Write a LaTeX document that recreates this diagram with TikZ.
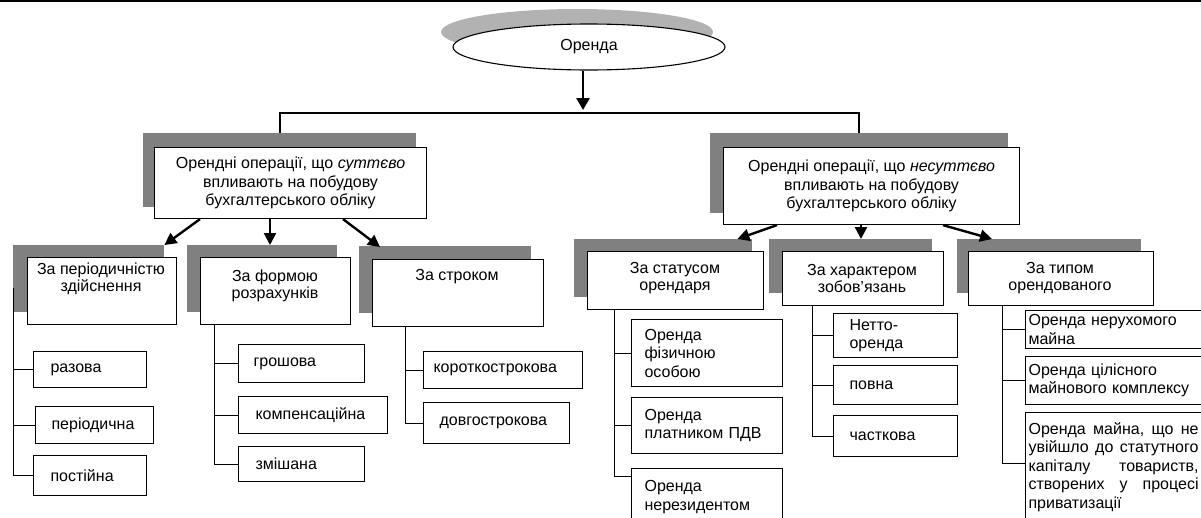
\documentclass[tikz,border=0pt]{standalone}
\usepackage{fontspec}
\setmainfont{Liberation Sans}
\usetikzlibrary{arrows.meta,shapes.geometric,calc}
\begin{document}
\begin{tikzpicture}[x=1pt,y=-1pt,
  box/.style={draw, line width=1.1pt, fill=white, inner sep=0pt, anchor=north west},
  shd/.style={fill=gray, inner sep=0pt, anchor=north west},
  mainf/.style={font=\fontsize{16}{18.5}\selectfont, align=center},
  tx/.style={font=\fontsize{16}{17}\selectfont, align=center, inner sep=0pt},
  sub/.style={box, font=\fontsize{16}{18.5}\selectfont, align=left, inner ysep=0pt},
  arr/.style={line width=2.4pt, -{Triangle[length=12pt,width=12pt]}},
  tree/.style={line width=1pt},
]
\useasboundingbox (0,0) rectangle (1201,517);
\clip (0,0) rectangle (1201,517);
\draw[line width=2.4pt] (0,1.2) -- (1201,1.2);

% root ellipse
\node[ellipse, fill=gray!60, minimum width=272pt, minimum height=46pt, inner sep=0pt] (ors) at (577,32) {};
\node[ellipse, draw, line width=1.1pt, fill=white, minimum width=272pt, minimum height=46pt, inner sep=0pt, font=\fontsize{16}{18}\selectfont] (or) at (589,47) {Оренда};
\coordinate (bar) at (583,113);
\draw[line width=2.6pt, -{Triangle[length=12pt,width=13pt]}] ([xshift=-6pt]or.south) -- ([yshift=3pt]bar);

% main boxes
\node[shd, minimum width=273pt, minimum height=74pt] (lms) at (143,133) {};
\node[shd, minimum width=298pt, minimum height=80pt] (rms) at (710,133) {};
\node[box, mainf, minimum width=272pt, minimum height=71pt] (lm) at (154,147) {Орендні операції, що \textit{суттєво}\\впливають на побудову\\бухгалтерського обліку};
\node[box, mainf, minimum width=296pt, minimum height=77pt] (rm) at (723,147) {Орендні операції, що \textit{несуттєво}\\впливають на побудову\\бухгалтерського обліку};

\draw[line width=1.2pt] ([xshift=137pt]lms.north west) |- (bar) -| ([xshift=149pt]rms.north west);
\draw[line width=2pt] ([xshift=137pt]lms.north west) -- ++(0,-20);
\draw[line width=2pt] ([xshift=149pt]rms.north west) -- ++(0,-20);

% header shadows and boxes
\node[shd, minimum width=151pt, minimum height=67pt] (h1s) at (13,245) {};
\node[shd, minimum width=150pt, minimum height=67pt] (h2s) at (187,245) {};
\node[shd, minimum width=172pt, minimum height=67pt] (h3s) at (359,246) {};
\node[shd, minimum width=178pt, minimum height=58pt] (h4s) at (574,239) {};
\node[shd, minimum width=163pt, minimum height=54pt] (h5s) at (769,239) {};
\node[shd, minimum width=184pt, minimum height=54pt] (h6s) at (957,239) {};

\node[box, minimum width=149pt, minimum height=67pt] (h1) at (27,257) {};
\node[box, minimum width=150pt, minimum height=67pt] (h2) at (200,257) {};
\node[box, minimum width=171pt, minimum height=67pt] (h3) at (372,259) {};
\node[box, minimum width=176pt, minimum height=58pt] (h4) at (587,251) {};
\node[box, minimum width=161pt, minimum height=54pt] (h5) at (782,251) {};
\node[box, minimum width=185pt, minimum height=54pt] (h6) at (968,251) {};

\node[tx] (h1t) at (101,278.5) {За періодичністю\\здійснення};
\node[tx] (h2t) at (275,286) {За формою\\розрахунків};
\node[tx] (h3t) at (457,277) {За строком};
\node[tx] (h4t) at (675,278.5) {За статусом\\орендаря};
\node[tx] (h5t) at (862,278.5) {За характером\\зобов’язань};
\node[tx] (h6t) at (1060,278.5) {За типом\\орендованого};

% arrows to headers
\draw[arr] ([xshift=46pt]lm.south west) -- (h1s.north east);
\draw[arr] ([xshift=116pt]lm.south west) -- ([xshift=83pt]h2s.north west);
\draw[arr] ([xshift=189pt]lm.south west) -- ([xshift=21pt,yshift=-1pt]h3s.north west);
\draw[arr] ([xshift=54pt]rm.south west) -- ([xshift=-15pt]h4s.north east);
\draw[arr] ([xshift=138pt]rm.south west) -- ([xshift=92pt]h5s.north west);
\draw[arr] ([xshift=220pt]rm.south west) -- ([xshift=35pt]h6s.north west);

% sub boxes
\node[sub, text width=79pt, inner xsep=17pt, minimum height=36pt] (s1a) at (33,351) {разова};
\node[sub, text width=86pt, inner xsep=16pt, minimum height=37pt] (s1b) at (35,406) {періодична};
\node[sub, text width=79pt, inner xsep=17pt, minimum height=40pt] (s1c) at (33,455) {постійна};

\node[sub, text width=96pt, inner xsep=15pt, minimum height=38pt] (s2a) at (238,344) {грошова};
\node[sub, text width=115pt, inner xsep=17pt, minimum height=37pt] (s2b) at (238,396) {компенсаційна};
\node[sub, text width=92pt, inner xsep=17pt, minimum height=35pt] (s2c) at (238,446) {змішана};

\node[sub, text width=139pt, inner xsep=10pt, minimum height=37pt] (s3a) at (423,351) {короткострокова};
\node[sub, text width=114pt, inner xsep=16pt, minimum height=41pt] (s3b) at (423,402) {довгострокова};

\node[sub, text width=125pt, inner xsep=13pt, minimum height=67pt] (s4a) at (631,319) {Оренда\\фізичною\\особою};
\node[sub, text width=125pt, inner xsep=13pt, minimum height=56pt] (s4b) at (631,397) {Оренда\\платником ПДВ};
\node[sub, text width=125pt, inner xsep=13pt, minimum height=57pt] (s4c) at (631,468) {Оренда\\нерезидентом};

\node[sub, text width=92pt, inner xsep=16pt, minimum height=44pt] (s5a) at (833,313) {Нетто-\\оренда};
\node[sub, text width=92pt, inner xsep=16pt, minimum height=39pt] (s5b) at (833,365) {повна};
\node[sub, text width=92pt, inner xsep=16pt, minimum height=41pt] (s5c) at (833,415) {часткова};

\node[sub, text width=184pt, inner xsep=3pt, minimum height=38pt] (s6a) at (1025,310) {Оренда нерухомого\\майна};
\node[sub, text width=184pt, inner xsep=3pt, minimum height=48pt] (s6b) at (1025,356) {Оренда цілісного\\майнового комплексу};
\node[sub, text width=184pt, inner xsep=3pt, minimum height=109pt] (s6c) at (1025,412) {\makebox[170pt][l]{Оренда\hfill майна,\hfill що\hfill не}\\\makebox[170pt][l]{увійшло\hfill до\hfill статутного}\\\makebox[170pt][l]{капіталу\hfill товариств,}\\\makebox[170pt][l]{створених\hfill у\hfill процесі}\\приватизації};

% tree lines
\coordinate (t1) at ([yshift=-43pt]h1s.north west);
\coordinate (t2) at ([xshift=14pt]h2.south west);
\coordinate (t3) at ([xshift=33pt]h3.south west);
\coordinate (t4) at ([xshift=27pt]h4.south west);
\coordinate (t5) at ([xshift=30pt]h5.south west);
\coordinate (t6) at ([xshift=34pt]h6.south west);

\draw[tree] (t1) |- (s1a.west);
\draw[tree] (t1) |- (s1b.west);
\draw[tree] (t1) |- (s1c.west);
\draw[tree] (t2) |- (s2a.west);
\draw[tree] (t2) |- (s2b.west);
\draw[tree] (t2) |- (s2c.west);
\draw[tree] (t3) |- (s3a.west);
\draw[tree] (t3) |- (s3b.west);
\draw[tree] (t4) |- (s4a.west);
\draw[tree] (t4) |- (s4b.west);
\draw[tree] (t4) |- ([yshift=-8pt]s4c.north west);
\draw[tree] (t5) |- (s5a.west);
\draw[tree] (t5) |- (s5b.west);
\draw[tree] (t5) |- (s5c.west);
\draw[tree] (t6) |- (s6a.west);
\draw[tree] (t6) |- (s6b.west);
\draw[tree] (t6) |- ([yshift=-51pt]s6c.north west);
\end{tikzpicture}
\end{document}
